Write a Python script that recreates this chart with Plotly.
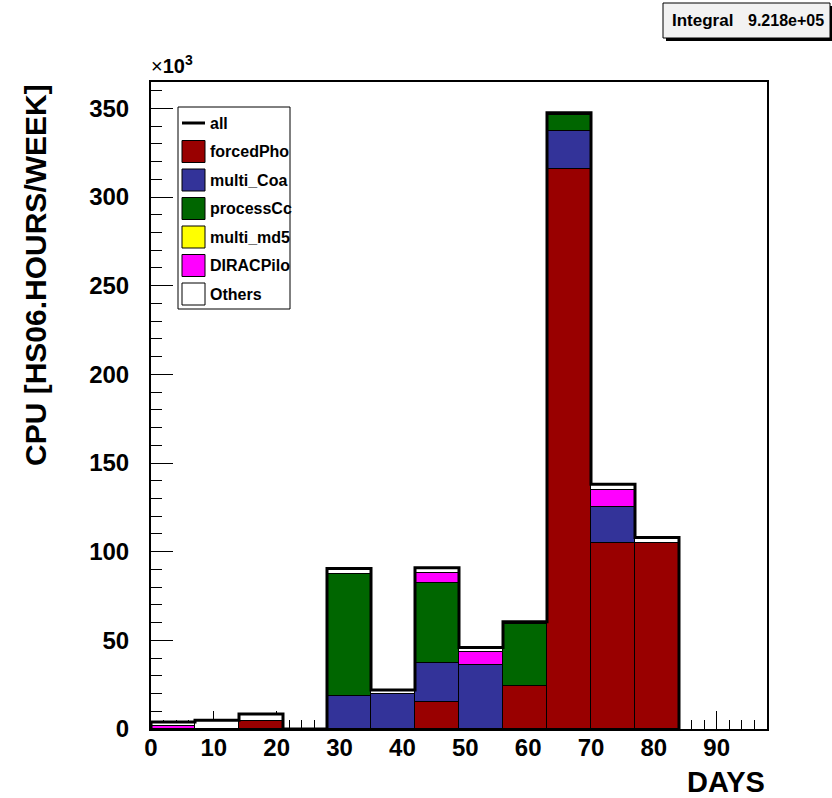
import plotly.graph_objects as go

# ---- data (values in units of 10^3 HS06 hours / week) ----
week_start = [0, 7, 14, 21, 28, 35, 42, 49, 56, 63, 70, 77]
forcedPho = [0, 0, 4.5, 0, 0, 0, 15, 0, 24, 316, 105, 105]
multi_Coa = [0, 0, 0, 0, 18.5, 19.5, 22.5, 36, 0, 21.5, 20, 0]
processCc = [0, 0, 0, 0, 69, 0, 45, 0, 35, 8.5, 0, 0]
multi_md5 = [0, 0, 0, 0, 0, 0, 0, 0, 0, 0, 0, 0]
DIRACPilo = [1.5, 0, 0, 0, 0, 0, 5.5, 7.5, 0, 0, 10, 0]
Others = [2.5, 5, 4, 0, 3, 2.5, 3, 2.5, 1.5, 1.5, 3, 3]
bin_width = 7
integral_text = "9.218e+05"

series = [
    ("forcedPho", forcedPho, "#990000"),
    ("multi_Coa", multi_Coa, "#333399"),
    ("processCc", processCc, "#006600"),
    ("multi_md5", multi_md5, "#ffff00"),
    ("DIRACPilo", DIRACPilo, "#ff00ff"),
    ("Others", Others, "#ffffff"),
]

totals = [sum(v[i] for _, v, _ in series) for i in range(len(week_start))]

W, H = 832, 798
L, R, T, B = 151, 767, 82, 729


def px(x):
    return (x - L) / (R - L)


def py(y):
    return (B - y) / (B - T)


fig = go.Figure()
for name, vals, col in series:
    fig.add_trace(go.Bar(
        x=week_start, y=vals, width=bin_width, offset=0, name=name,
        marker=dict(color=col, line=dict(color="black", width=1)),
        showlegend=False,
    ))

# "all" outline as step line
step_x = [week_start[0]] + week_start + [week_start[-1] + bin_width]
step_y = [0] + totals + [0]
fig.add_trace(go.Scatter(
    x=step_x, y=step_y, mode="lines", line=dict(color="black", width=3, shape="hv"),
    name="all", showlegend=False, hoverinfo="skip",
))

ymax = 1.05 * max(totals)

font_family = "Liberation Sans, Arial, sans-serif"
fig.update_layout(
    width=W, height=H,
    margin=dict(l=L, r=W - R, t=T, b=H - B),
    paper_bgcolor="white", plot_bgcolor="white",
    barmode="stack", bargap=0,
    showlegend=False,
    font=dict(family=font_family, color="black"),
)
fig.update_xaxes(
    range=[0, 98], showgrid=False, zeroline=False,
    showline=True, linecolor="black", linewidth=2, mirror=True,
    ticks="inside", ticklen=18, tickwidth=1, tickcolor="black",
    tick0=0, dtick=10,
    minor=dict(ticks="inside", ticklen=9, dtick=2, tick0=0, tickcolor="black", tickwidth=1),
    tickfont=dict(size=24, family=font_family, weight="bold", color="black"),
    ticklabelstandoff=-4, layer="below traces",
)
fig.update_yaxes(
    range=[0, ymax], showgrid=False, zeroline=False,
    showline=True, linecolor="black", linewidth=2, mirror=True,
    ticks="inside", ticklen=22, tickwidth=1, tickcolor="black",
    tick0=0, dtick=50,
    minor=dict(ticks="inside", ticklen=11, dtick=10, tick0=0, tickcolor="black", tickwidth=1),
    tickfont=dict(size=24, family=font_family, weight="bold", color="black"),
    ticklabelstandoff=15, layer="below traces",
)

shapes = []
annotations = []

# axis titles
annotations.append(dict(
    xref="paper", yref="paper", x=px(35), y=py(275), text="CPU [HS06.HOURS/WEEK]",
    textangle=-90, showarrow=False, xanchor="center", yanchor="middle",
    font=dict(size=30, family=font_family, weight="bold", color="black"),
))
annotations.append(dict(
    xref="paper", yref="paper", x=px(767), y=py(782), text="DAYS",
    showarrow=False, xanchor="right", yanchor="middle",
    font=dict(size=29, family=font_family, weight="bold", color="black"),
))
annotations.append(dict(
    xref="paper", yref="paper", x=px(149), y=py(79), text="×<b>10</b><sup><b>3</b></sup>",
    showarrow=False, xanchor="left", yanchor="bottom",
    font=dict(size=20, family=font_family, color="black"),
))

# legend box
shapes.append(dict(type="rect", xref="paper", yref="paper",
                   x0=px(178), x1=px(290), y0=py(309), y1=py(107),
                   line=dict(color="black", width=1), fillcolor="white", layer="above"))
legend_items = [("all", None)] + [(n, c) for n, _, c in series]
y0 = 123
step = 28.5
for i, (name, col) in enumerate(legend_items):
    yc = y0 + i * step
    if col is None:
        shapes.append(dict(type="line", xref="paper", yref="paper",
                           x0=px(182), x1=px(205), y0=py(yc), y1=py(yc),
                           line=dict(color="black", width=3), layer="above"))
    else:
        shapes.append(dict(type="rect", xref="paper", yref="paper",
                           x0=px(182), x1=px(205), y0=py(yc + 11), y1=py(yc - 11),
                           line=dict(color="black", width=1), fillcolor=col, layer="above"))
    annotations.append(dict(
        xref="paper", yref="paper", x=px(208), y=py(yc), text=name,
        showarrow=False, xanchor="left", yanchor="middle",
        font=dict(size=16, family=font_family, weight="bold", color="black"),
    ))

# integral stats box with shadow
shapes.append(dict(type="rect", xref="paper", yref="paper",
                   x0=px(666), x1=px(833), y0=py(41), y1=py(6),
                   line=dict(color="black", width=0), fillcolor="black", layer="above"))
shapes.append(dict(type="rect", xref="paper", yref="paper",
                   x0=px(663), x1=px(830), y0=py(38), y1=py(3),
                   line=dict(color="black", width=1), fillcolor="#f2f2f2", layer="above"))
annotations.append(dict(
    xref="paper", yref="paper", x=px(670), y=py(20), text="Integral",
    showarrow=False, xanchor="left", yanchor="middle",
    font=dict(size=17, family=font_family, weight="bold", color="black"),
))
annotations.append(dict(
    xref="paper", yref="paper", x=px(826), y=py(21), text=integral_text,
    showarrow=False, xanchor="right", yanchor="middle",
    font=dict(size=16, family=font_family, weight="bold", color="black"),
))

fig.update_layout(shapes=shapes, annotations=annotations)
fig.write_html("out.html", post_script="document.body.style.margin='0';",
               config={"displayModeBar": False})
